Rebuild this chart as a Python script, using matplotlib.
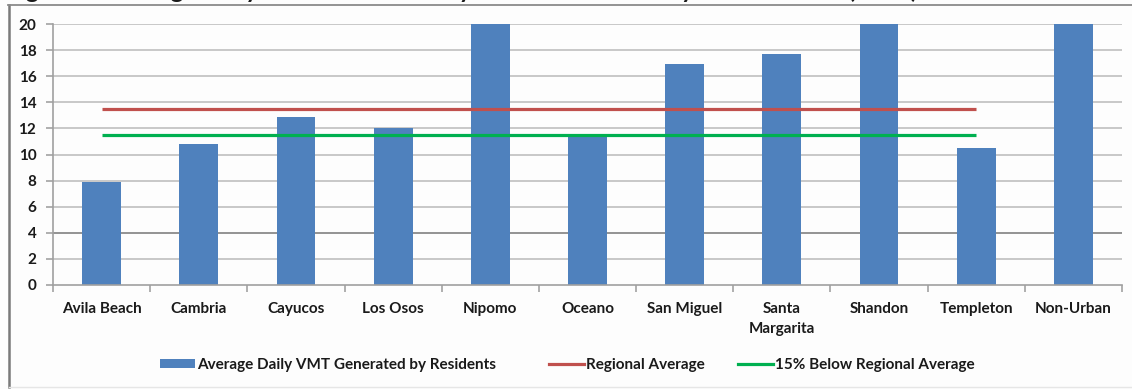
import matplotlib
matplotlib.use("Agg")
import matplotlib.pyplot as plt
from matplotlib.lines import Line2D
from matplotlib.patches import Patch

# Community-level daily VMT per resident (2010)
communities = ["Avila Beach", "Cambria", "Cayucos", "Los Osos", "Nipomo", "Oceano",
               "San Miguel", "Santa\nMargarita", "Shandon", "Templeton", "Non-Urban"]
vmt_residents = [7.9, 10.8, 12.9, 12.0, 22.5, 11.6, 16.9, 17.7, 24.0, 10.5, 27.0]

# Reference lines span the ten urban communities
regional_average = [13.5, 13.5, 13.5, 13.5, 13.5, 13.5, 13.5, 13.5, 13.5, 13.5]
below_regional = [11.48, 11.48, 11.48, 11.48, 11.48, 11.48, 11.48, 11.48, 11.48, 11.48]

y_ticks = [0, 2, 4, 6, 8, 10, 12, 14, 16, 18, 20]

title_text = "Figure 2: Average Daily VMT Generated by Residents in County Communities (2010)"
bar_label = "Average Daily VMT Generated by Residents"
red_label = "Regional Average"
green_label = "15% Below Regional Average"

BAR = "#4f81bd"
RED = "#c0504d"
GREEN = "#00b050"
GRID = "#c4c4c4"
TEXT = "#1a1a1a"
FONT = ["Lato", "DejaVu Sans"]
FS = 11

plt.rcParams["font.family"] = FONT

W, H = 1132, 389
fig = plt.figure(figsize=(W / 100, H / 100), dpi=100)
fig.patch.set_facecolor("#fdfdfd")

ax = fig.add_axes([53 / W, 1 - 285 / H, (1122 - 53) / W, (285 - 24) / H])
ax.set_facecolor("#fdfdfd")

x = list(range(len(communities)))
ax.bar(x, vmt_residents, width=0.4, color=BAR, zorder=2)
ax.plot(x[:len(regional_average)], regional_average, color=RED, lw=2.3, zorder=3,
        solid_capstyle="butt")
ax.plot(x[:len(below_regional)], below_regional, color=GREEN, lw=2.3, zorder=3,
        solid_capstyle="butt")

ax.set_xlim(-0.5, len(communities) - 0.5)
ax.set_ylim(0, 20)
ax.set_yticks(y_ticks)
ax.set_yticklabels([str(v) for v in y_ticks], fontsize=FS, fontweight="bold",
                   color=TEXT)
ax.yaxis.grid(True, color=GRID, lw=1.3, zorder=0)
ax.set_axisbelow(True)
for t, line in zip(y_ticks, ax.get_ygridlines()):
    if t == 4:
        line.set_color("#8a8a8a")
    if t == 0:
        line.set_visible(False)

ax.set_xticks(x)
ax.set_xticklabels(communities, fontsize=FS, fontweight="bold", color=TEXT,
                   linespacing=1.55)
ax.tick_params(axis="x", length=0, pad=12)
ax.set_xticks([i - 0.5 for i in range(len(communities) + 1)], minor=True)
ax.tick_params(axis="x", which="minor", length=5, color="#9a9a9a", width=1.1)
ax.tick_params(axis="y", length=5, color="#9a9a9a", width=1.1, pad=7)

for side in ("top", "right"):
    ax.spines[side].set_visible(False)
for side in ("left", "bottom"):
    ax.spines[side].set_color("#a0a0a0")
    ax.spines[side].set_linewidth(1.2)

# legend entries, each placed at its own position along the bottom row
entries = [
    (Patch(facecolor=BAR, edgecolor="none"), bar_label, 160),
    (Line2D([], [], color=RED, lw=2.3), red_label, 549),
    (Line2D([], [], color=GREEN, lw=2.3), green_label, 738),
]
for handle, label, x0 in entries:
    leg = fig.legend([handle], [label], loc="center left",
                     bbox_to_anchor=(x0 / W, 1 - 365 / H), frameon=False,
                     prop={"family": FONT, "size": FS, "weight": "bold"},
                     handlelength=2.3, handleheight=0.5, handletextpad=0.15,
                     borderpad=0, borderaxespad=0, labelcolor=TEXT)

# chart frame: left and top border
fig.add_artist(Line2D([9 / W, 9 / W], [1 - 5 / H, 1 - 387 / H], color="#7a7a7a",
                      lw=1.8, transform=fig.transFigure))
fig.add_artist(Line2D([8 / W, 1.0], [1 - 5 / H, 1 - 5 / H], color="#8a8a8a",
                      lw=1.3, transform=fig.transFigure))
fig.add_artist(Line2D([9 / W, 1.0], [1 - 387 / H, 1 - 387 / H], color="#e6e6e6",
                      lw=1.0, transform=fig.transFigure))

# figure caption sits above the frame, mostly outside the canvas
fig.text(6 / W, 1 + 2.0 / H, title_text, fontsize=17.5, fontweight="bold",
         color=TEXT, va="baseline", ha="left", family=FONT)

fig.savefig("out.png", dpi=100, facecolor=fig.get_facecolor())
